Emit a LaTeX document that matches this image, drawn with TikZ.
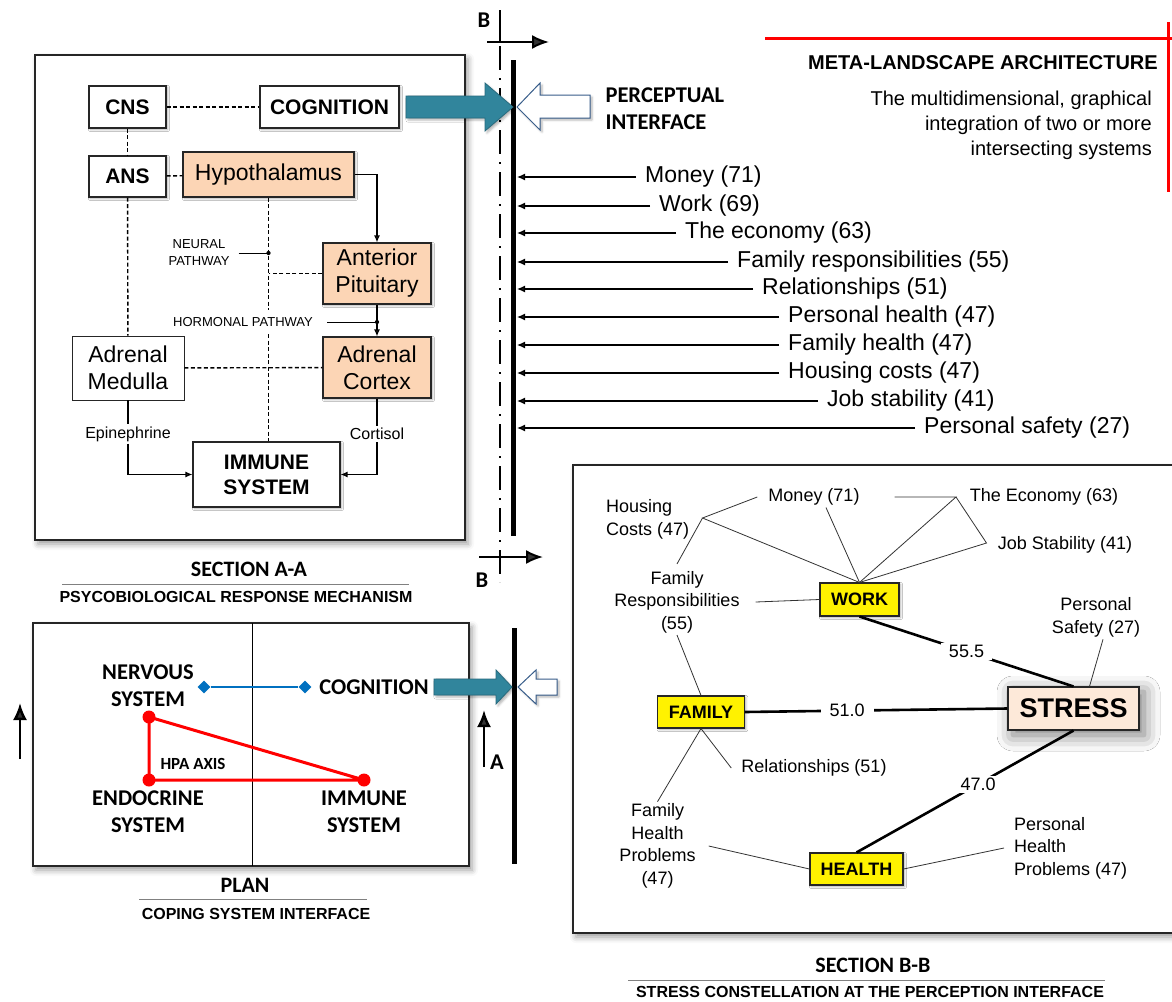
\documentclass[tikz,border=0pt]{standalone}
\usepackage{fontspec}
\setmainfont{Liberation Sans}
\newfontfamily\calibfont{Carlito}
\usetikzlibrary{%
	calc,%
	arrows.meta,%
	shapes,%
	positioning,%
	shadows.blur
}

\definecolor{peach}{HTML}{FCD5B5}
\definecolor{stresspink}{HTML}{FDE9D9}
\definecolor{arrowteal}{HTML}{31859C}
\definecolor{edgeblue}{HTML}{385D8A}
\definecolor{diamblue}{HTML}{0070C0}

\begin{document}
\begin{tikzpicture}[x=1pt,y=-1pt,>={Latex[length=8pt,width=7pt]},
	box/.style={draw=black!85,line width=1.1pt,fill=white,inner sep=0pt,align=center},
	shade/.style={blur shadow={shadow xshift=1.5pt,shadow yshift=-1.5pt,shadow blur steps=4,shadow opacity=35}},
	bigbox/.style={draw=black!85,line width=1.4pt,fill=white,blur shadow={shadow xshift=3pt,shadow yshift=-4pt,shadow blur radius=6pt,shadow opacity=40}},
	organ/.style={box,shade,fill=peach,font=\fontsize{23}{27}\selectfont},
	sys/.style={box,shade,font=\bfseries\fontsize{21}{25}\selectfont},
	pathlabel/.style={font=\fontsize{13}{17}\selectfont,align=center,inner sep=1pt},
	hormone/.style={font=\fontsize{16}{19}\selectfont,inner sep=2pt},
	link/.style={line width=1.4pt,dash pattern=on 4pt off 2.5pt},
	flow/.style={-{Latex[length=7pt,width=6pt]},line width=1.2pt},
	cutarrow/.style={-{Latex[length=17pt,width=14pt]},line width=2.5pt},
	dot/.style={circle,fill,inner sep=1.5pt},
	captitle/.style={font=\calibfont\bfseries\fontsize{22}{26}\selectfont},
	capsub/.style={font=\bfseries\fontsize{16}{19}\selectfont},
	heading/.style={font=\calibfont\bfseries\fontsize{22.5}{27}\selectfont,align=center},
	factor/.style={font=\fontsize{23}{27}\selectfont,anchor=west,inner sep=0pt},
	hub/.style={box,shade,fill=yellow,font=\bfseries\fontsize{18}{22}\selectfont},
	leaf/.style={font=\fontsize{18}{22.5}\selectfont,align=center,inner sep=2pt},
	weight/.style={line width=2.6pt},
	twig/.style={line width=0.8pt,draw=black!80},
	redline/.style={red,line width=3pt},
	bdiam/.style={diamond,fill=diamblue,inner sep=0pt,minimum size=13pt}
]
\useasboundingbox (0,0) rectangle (1172,1001);

% Section A-A frame
\draw[bigbox] (35,55) rectangle (465,540);

% Section A-A nodes
\node[sys,minimum width=77pt,minimum height=42pt] (cns) at (127.5,107) {CNS};
\node[sys,minimum width=139pt,minimum height=42pt] (cog) at (329.5,107) {COGNITION};
\node[sys,minimum width=77pt,minimum height=41pt] (ans) at (127.5,176.5) {ANS};
\node[organ,minimum width=171pt,minimum height=45pt] (hyp) at (268.5,174.5) {Hypothalamus};
\node[organ,minimum width=108pt,minimum height=61pt] (ant) at (377,273.5) {Anterior\\Pituitary};
\node[organ,minimum width=108pt,minimum height=61pt] (cor) at (377,367.5) {Adrenal\\Cortex};
\node[box,line width=0.8pt,minimum width=112pt,minimum height=64pt,font=\fontsize{23}{27}\selectfont] (med) at (128,368) {Adrenal\\Medulla};
\node[sys,minimum width=147pt,minimum height=65pt] (imm) at (266.5,474.5) {IMMUNE\\SYSTEM};
\node[hormone] (epi) at (128,434) {Epinephrine};
\node[hormone] (cort) at (377,434) {Cortisol};

% Section A-A links
\draw[link] (cns) -- (cog);
\draw[link] (cns) -- (ans);
\draw[link] (ans) -- (hyp);
\draw[link] (ans) -- (med);
\draw[link] (hyp.south) -- (hyp.south |- imm.north);
\draw[link] (ant.west) -- (ant.west -| hyp.south);
\draw[link] (med) -- (cor);
\draw[flow] (hyp.east) -| (ant.north);
\draw[flow] (ant.south) -- (cor.north);
\draw[line width=1.2pt] (med.south) -- (epi.north);
\draw[flow] (epi.south) |- (imm.west);
\draw[line width=1.2pt] (cor.south) -- (cort.north);
\draw[flow] (cort.south) |- (imm.east);

% Pathway labels
\node[pathlabel] (neural) at (199,253) {NEURAL\\PATHWAY};
\node[pathlabel,fill=white,inner ysep=7pt] (horm) at (243,322) {HORMONAL PATHWAY};
\draw[line width=0.7pt] ([xshift=8pt]neural.east) -- (neural.east -| hyp.south) node[dot]{};
\draw[line width=0.7pt] ([xshift=13pt]horm.east) -- (horm.east -| ant.south) node[dot]{};

% Section A-A caption
\node[captitle] (secA) at (249,569) {SECTION A-A};
\draw[gray,line width=1pt] (62,584) -- (409,584);
\node[capsub] (secAsub) at (236,597) {PSYCOBIOLOGICAL RESPONSE MECHANISM};

% Cut line B-B
\draw[line width=1.8pt,dash pattern=on 24pt off 8pt on 2pt off 8pt] (500,46) -- (500,582);
\draw[line width=2pt] (500,10) -- (500,42);
\draw[cutarrow,line width=2pt] (487,42) -- (549,42);
\node[heading] (btop) at (484,20) {B};
\draw[cutarrow,line width=2pt] (479,557) -- (543,557);
\node[heading] (bbot) at (482,580) {B};

% Perceptual interface
\draw[line width=5pt] (513,60) -- (513,536);
\fill[arrowteal,draw=arrowteal!80!black,line width=0.8pt,blur shadow={shadow xshift=2pt,shadow yshift=-2pt,shadow opacity=30}]
	(406,96) -- (485,96) -- (485,83) -- (513,107) -- (485,131) -- (485,118) -- (406,118) -- cycle;
\draw[edgeblue,fill=white,line width=1pt,blur shadow={shadow xshift=2pt,shadow yshift=-2pt,shadow opacity=30}]
	(517,107) -- (540,83) -- (540,95) -- (590,95) -- (590,118) -- (540,118) -- (540,130) -- cycle;
\node[heading,align=left,anchor=west] (pi) at (602,108.5) {PERCEPTUAL\\INTERFACE};

% Stress factors
\coordinate (pline) at (517,0);
\foreach \yy/\xt/\txt [count=\i] in {177/645/Money (71), 206/659/Work (69), 233/685/The economy (63), 262/737/Family responsibilities (55), 289/762/Relationships (51), 317/788/Personal health (47), 345/788/Family health (47), 373/788/Housing costs (47), 401/827/Job stability (41), 428/924/Personal safety (27)}
{
	\node[factor] (f\i) at (\xt,\yy) {\txt};
	\draw[->,line width=1.3pt] ([xshift=-9pt]f\i.west) -- (f\i.west -| pline);
}

% Meta-landscape title
\draw[redline] (765,38) -- (1180,38);
\draw[redline] (1168,22) -- (1168,192);
\node[font=\bfseries\fontsize{20}{24}\selectfont,anchor=east,inner sep=0pt] (meta) at (1158,63) {META-LANDSCAPE ARCHITECTURE};
\node[font=\fontsize{20}{25}\selectfont,align=right,anchor=east,inner sep=0pt] (metasub) at (1152,125) {The multidimensional, graphical\\integration of two or more\\intersecting systems};

% Plan
\draw[bigbox] (33,623) rectangle (469,866);
\draw[line width=1pt] (252,623) -- (252,866);
\node[heading] (nerv) at (148,686) {NERVOUS\\SYSTEM};
\node[heading] (pcog) at (374,687) {COGNITION};
\node[heading] (endo) at (148,812) {ENDOCRINE\\SYSTEM};
\node[heading] (pimm) at (364,812) {IMMUNE\\SYSTEM};
\node[font=\calibfont\bfseries\fontsize{17}{20}\selectfont] (hpa) at (193,764) {HPA AXIS};
\node[bdiam] (dn) at (204,687) {};
\node[bdiam] (dc) at (305,687) {};
\draw[diamblue,line width=2pt] (dn) -- (dc);

% HPA triangle
\coordinate (rn) at (149,717);
\coordinate (re) at (149,780);
\coordinate (ri) at (364,780);
\draw[redline,line join=round] (rn) -- (re) -- (ri) -- cycle;
\foreach \p in {rn,re,ri}
\fill[red] (\p) circle (6.5pt);

% Cut marks A
\draw[cutarrow] (20,759) -- (20,703);
\draw[cutarrow] (484,767) -- (484,710);
\node[heading,inner sep=0pt] (alab) at (497,762) {A};
\draw[line width=5pt] (514,628) -- (514,864);
\fill[arrowteal,draw=arrowteal!80!black,line width=0.8pt,blur shadow={shadow xshift=2pt,shadow yshift=-2pt,shadow opacity=30}]
	(434,679) -- (496,679) -- (496,670) -- (512,687) -- (496,704) -- (496,695) -- (434,695) -- cycle;
\draw[edgeblue,fill=white,line width=1pt,blur shadow={shadow xshift=2pt,shadow yshift=-2pt,shadow opacity=30}]
	(518,687) -- (536,670) -- (536,679) -- (557,679) -- (557,695) -- (536,695) -- (536,704) -- cycle;

% Plan caption
\node[captitle] (plan) at (245,885) {PLAN};
\draw[gray,line width=1pt] (139,899) -- (367,899);
\node[capsub] (plansub) at (256,914) {COPING SYSTEM INTERFACE};

% Section B-B frame
\draw[bigbox] (573,465) rectangle (1190,933);

% Section B-B nodes
\node[hub,minimum width=79pt,minimum height=33pt] (work) at (859.5,599.5) {WORK};
\node[hub,minimum width=86.5pt,minimum height=32pt] (family) at (701,712) {FAMILY};
\node[hub,minimum width=93pt,minimum height=32pt] (health) at (856.5,869) {HEALTH};
\node[box,fill=stresspink,minimum width=131pt,minimum height=43pt,font=\bfseries\fontsize{27}{32}\selectfont,
	blur shadow={shadow xshift=5pt,shadow yshift=-5pt,shadow blur radius=16pt,shadow opacity=55}] (stress) at (1073.5,708.5) {STRESS};

\node[leaf,align=left,anchor=west] (housing) at (604,519.5) {Housing\\Costs (47)};
\node[leaf] (money) at (814,497) {Money (71)};
\node[leaf] (econ) at (1044,497) {The Economy (63)};
\node[leaf] (jobs) at (1065,545) {Job Stability (41)};
\node[leaf] (famresp) at (677,602) {Family\\Responsibilities\\(55)};
\node[leaf] (safety) at (1096,617.5) {Personal\\Safety (27)};
\node[leaf] (relat) at (814,768) {Relationships (51)};
\node[leaf] (famhealth) at (657.5,846) {Family\\Health\\Problems\\(47)};
\node[leaf,align=left,anchor=west] (perhealth) at (1012,848) {Personal\\Health\\Problems (47)};

% Junctions
\coordinate (j1) at (702.5,518);
\coordinate (j2) at (956,497);
\coordinate (j3) at (986.5,543);

% Thin links
\draw[twig] ([xshift=-9pt]money.west) -- (j1) -- (work.north);
\draw[twig] (j1) -- ([yshift=5pt]famresp.north);
\draw[twig] ([xshift=33pt]money.east) -- (j2) -- (work.north);
\draw[twig] (j2) -- (j3) -- (work.north);
\draw[twig] ([xshift=12pt]money.south) -- (work.north);
\draw[twig] ([xshift=14pt]famresp.east) -- (work.west);
\draw[twig] (famresp.south) -- (family.north);
\draw[twig] ([xshift=7pt]safety.south) -- ([xshift=16pt]stress.north);
\draw[twig] (family.south) -- ([xshift=-8pt]relat.west);
\draw[twig] (family.south) -- (famhealth.north);
\draw[twig] ([xshift=11pt]famhealth.east) -- (health.west);
\draw[twig] (health.east) -- ([xshift=-8pt]perhealth.west);

% Weighted links
\draw[weight] (work.south) -- node[leaf,fill=white,inner xsep=8pt] {55.5} (stress.north);
\draw[weight] (family.east) -- node[leaf,pos=0.39,fill=white,inner xsep=9pt] {51.0} (stress.west);
\draw[weight] (health.north) -- node[leaf,pos=0.56,fill=white,inner xsep=6pt] {47.0} (stress.south);

% Section B-B caption
\node[captitle] (secB) at (873,965) {SECTION B-B};
\draw[gray,line width=1pt] (628,980) -- (1105,980);
\node[capsub] (secBsub) at (870,992) {STRESS CONSTELLATION AT THE PERCEPTION INTERFACE};
\end{tikzpicture}
\end{document}
